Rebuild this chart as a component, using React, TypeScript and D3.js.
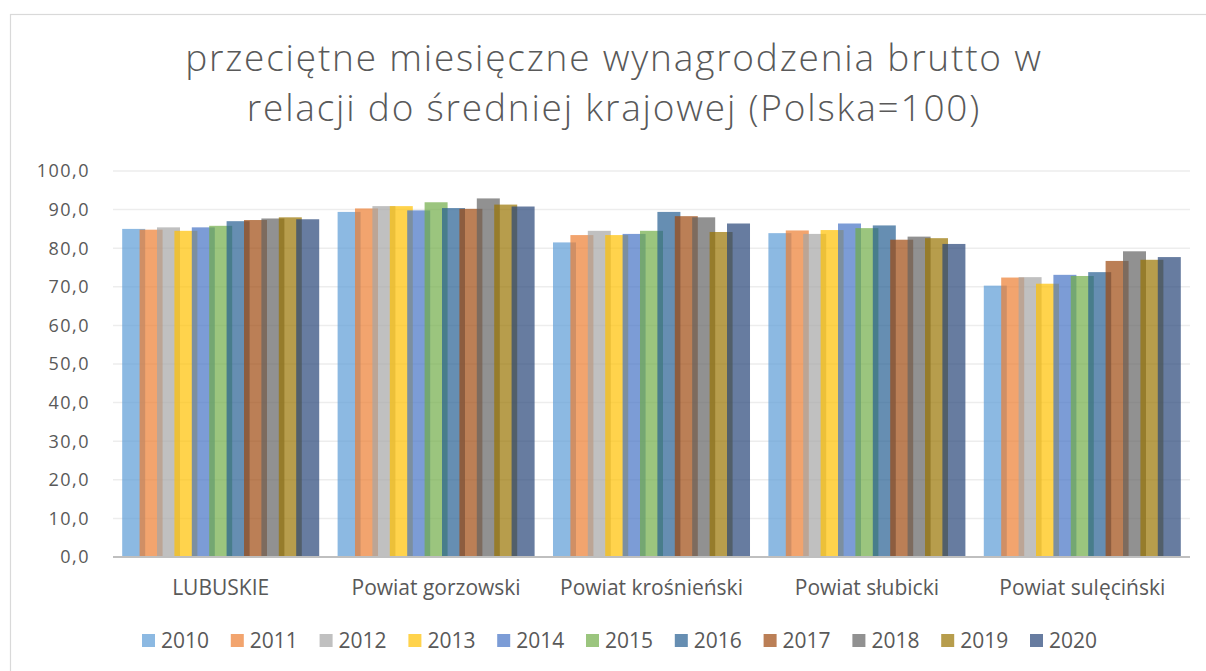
import * as d3 from "d3";
import React from "react";

// chart data
const categories = ["LUBUSKIE", "Powiat gorzowski", "Powiat krośnieński", "Powiat słubicki", "Powiat sulęciński"];
const years = ["2010", "2011", "2012", "2013", "2014", "2015", "2016", "2017", "2018", "2019", "2020"];
const lubuskie = [85.0, 84.8, 85.4, 84.5, 85.4, 85.8, 87.0, 87.3, 87.7, 88.0, 87.5];
const gorzowski = [89.4, 90.3, 90.9, 90.9, 89.8, 91.9, 90.4, 90.2, 92.9, 91.3, 90.8];
const krosnienski = [81.5, 83.4, 84.5, 83.4, 83.7, 84.5, 89.4, 88.3, 88.0, 84.2, 86.4];
const slubicki = [83.9, 84.6, 83.7, 84.7, 86.4, 85.2, 85.9, 82.2, 83.0, 82.6, 81.1];
const sulecinski = [70.3, 72.4, 72.5, 70.8, 73.1, 72.8, 73.8, 76.7, 79.2, 77.0, 77.7];
const seriesByCategory = [lubuskie, gorzowski, krosnienski, slubicki, sulecinski];
const yTicks = [0, 10, 20, 30, 40, 50, 60, 70, 80, 90, 100];
const titleLines = ["przeciętne miesięczne wynagrodzenia brutto w", "relacji do średniej krajowej (Polska=100)"];

const colors = ["#5B9BD5", "#ED7D31", "#A5A5A5", "#FFC000", "#4472C4", "#70AD47",
  "#255E91", "#9E480E", "#636363", "#997300", "#264478"];

const W = 1206, H = 671;
const plot = { left: 113, right: 1190, top: 171, bottom: 557 };
const textColor = "#595959";
const font = "'Open Sans', sans-serif";

export default function App() {
  const x = d3.scaleBand<string>()
    .domain(categories)
    .range([plot.left, plot.right])
    .paddingInner(0.0854)
    .paddingOuter(0.0427);
  const y = d3.scaleLinear().domain([0, 100]).range([plot.bottom, plot.top]);

  // bars overlap inside a group, like the excel chart
  const groupW = x.bandwidth();
  const barW = groupW * 23 / 197;
  const inner = d3.scaleLinear().domain([0, years.length - 1]).range([0, groupW - barW]);

  const legendX = d3.scaleLinear().domain([0, years.length - 1]).range([142, 1030]);

  return (
    <svg width={W} height={H} style={{ position: "absolute", left: 0, top: 0, background: "#fff" }}
      fontFamily={font}>
      <rect x={10.5} y={14.5} width={1300} height={700} fill="#fff" stroke="#D9D9D9" strokeWidth={1.2} />

      {titleLines.map((t, i) => (
        <text key={t} x={614} y={71 + i * 50} textAnchor="middle" fontSize={37} fontWeight={300}
          letterSpacing={1.8} fill={textColor}>{t}</text>
      ))}

      {/* grid */}
      {yTicks.map(t => (
        <g key={t}>
          {t > 0 && <line x1={plot.left} x2={plot.right} y1={y(t)} y2={y(t)} stroke="#EDEDED" strokeWidth={1.5} />}
          <text x={90} y={y(t)} dy="0.36em" textAnchor="end" fontSize={18} letterSpacing={1.5}
            fill={textColor}>{d3.format(".1f")(t).replace(".", ",")}</text>
        </g>
      ))}

      {/* bars */}
      {categories.map((c, ci) => (
        <g key={c}>
          {seriesByCategory[ci].map((v, i) => (
            <rect key={years[i]} x={(x(c) as number) + inner(i)} y={y(v)} width={barW}
              height={y(0) - y(v)} fill={colors[i]} fillOpacity={0.7} />
          ))}
        </g>
      ))}

      <line x1={plot.left} x2={plot.right} y1={plot.bottom} y2={plot.bottom} stroke="#BFBFBF" strokeWidth={2} />

      {categories.map(c => (
        <text key={c} x={(x(c) as number) + x.bandwidth() / 2} y={595} textAnchor="middle" fontSize={21}
          fill={textColor}>{c}</text>
      ))}

      {/* legend */}
      {years.map((yr, i) => (
        <g key={yr} transform={`translate(${legendX(i)},634)`}>
          <rect width={13} height={13} fill={colors[i]} fillOpacity={0.7} />
          <text x={19} y={14} fontSize={21} fill={textColor}>{yr}</text>
        </g>
      ))}
    </svg>
  );
}
